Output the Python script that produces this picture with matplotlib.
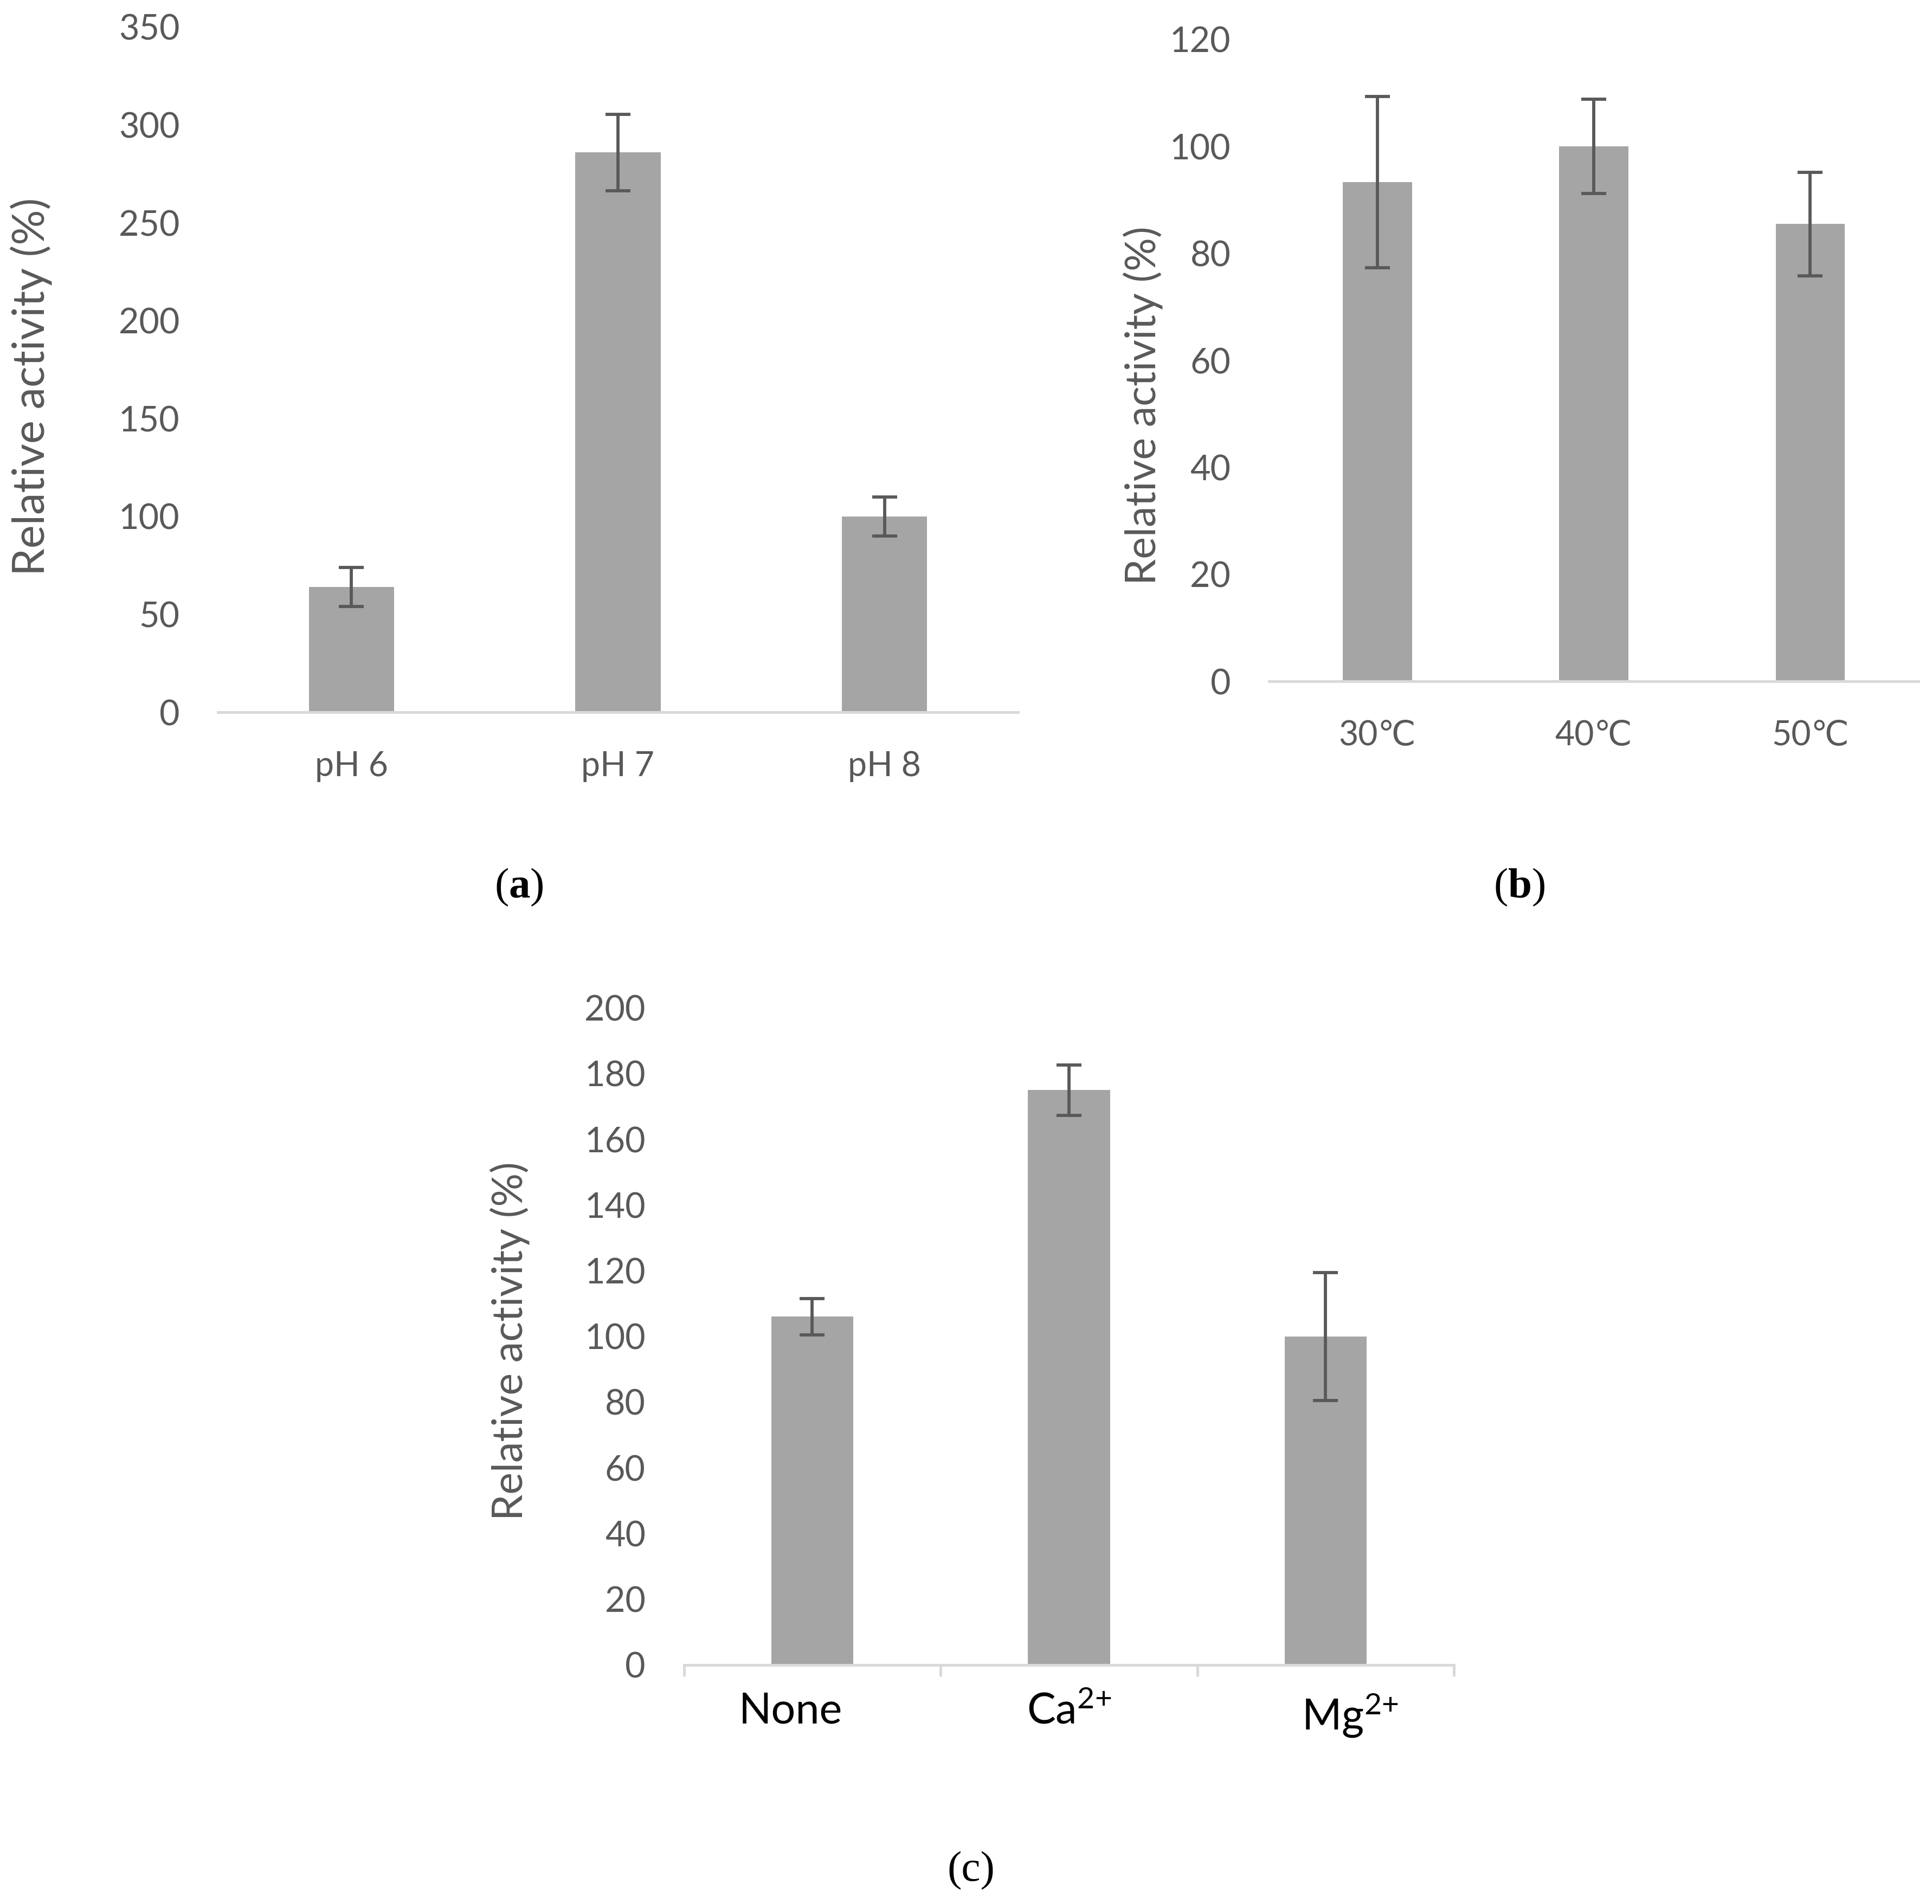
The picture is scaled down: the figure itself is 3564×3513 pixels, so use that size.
import matplotlib
matplotlib.use("Agg")
import matplotlib.pyplot as plt
import matplotlib.transforms as mtransforms
import numpy as np

plt.rcParams['font.family'] = ['Lato', 'DejaVu Sans']
plt.rcParams['mathtext.default'] = 'regular'
plt.rcParams['mathtext.fontset'] = 'custom'
plt.rcParams['mathtext.bf'] = 'Liberation Serif:bold'

# data
ph_labels = ['pH 6', 'pH 7', 'pH 8']
ph_values = [64, 286, 100]
ph_err = [10, 19.5, 10]

temp_labels = ['30℃', '40℃', '50℃']
temp_values = [93.3, 100, 85.5]
temp_err = [16, 8.8, 9.7]

ion_labels = ['None', 'Ca$^{2{+}}$', 'Mg$^{2{+}}$']
ion_values = [106, 175, 100]
ion_err = [5.5, 7.7, 19.5]

BAR = '#a5a5a5'
TXT = '#595959'
AXIS = '#d9d9d9'


def panel(ax, labels, values, err, ymax, step, label_x, label_y, label_size,
          xcolor=TXT, xsize=15, boundary_ticks=False):
    x = np.arange(len(labels))
    ax.bar(x, values, width=0.32, color=BAR, zorder=2)
    ax.errorbar(x, values, yerr=err, fmt='none', ecolor=TXT,
                elinewidth=1.4, capsize=5.5, capthick=1.4, zorder=3)
    ax.set_xlim(-0.5, len(labels) - 0.5)
    ax.set_ylim(0, ymax)
    ax.set_yticks(np.arange(0, ymax + 1, step))
    ax.set_xticks(x)
    ax.set_xticklabels(labels, color=xcolor, fontsize=xsize)
    for s in ['top', 'right', 'left']:
        ax.spines[s].set_visible(False)
    ax.spines['bottom'].set_color(AXIS)
    ax.spines['bottom'].set_linewidth(1.2)
    ax.tick_params(axis='y', length=0, pad=17, labelsize=15.5, labelcolor=TXT)
    ax.tick_params(axis='x', length=0, pad=17)
    if boundary_ticks:
        ax.set_xticks(np.arange(-0.5, len(labels), 1.0), minor=True)
        ax.tick_params(axis='x', which='minor', length=5, width=1.2,
                       color=AXIS)
    ax.set_ylabel('Relative activity (%)', fontsize=label_size, color=TXT)
    ax.yaxis.set_label_coords(label_x, label_y)


fig = plt.figure(figsize=(11.88, 11.71), dpi=300)

ax_a = fig.add_axes([0.1129, 0.6259, 0.4139, 0.3599])
panel(ax_a, ph_labels, ph_values, ph_err, 350, 50, -0.208, 0.475, 19.5)

ax_b = fig.add_axes([0.6569, 0.6421, 0.3361, 0.3372])
panel(ax_b, temp_labels, temp_values, temp_err, 120, 20, -0.163, 0.43, 18.5)

ax_c = fig.add_axes([0.354, 0.1256, 0.3986, 0.345])
panel(ax_c, ion_labels, ion_values, ion_err, 200, 20, -0.2, 0.493, 18.5,
      xcolor='black', xsize=19, boundary_ticks=True)
ax_c.tick_params(axis='x', which='major', pad=12)
# Excel placed the outer labels a little off the bar centres
for lab, dx in zip(ax_c.get_xticklabels(), [-0.135, 0.0, 0.15]):
    lab.set_transform(lab.get_transform() +
                      mtransforms.ScaledTranslation(dx, 0, fig.dpi_scale_trans))

serif = ['Liberation Serif', 'DejaVu Serif']
fig.text(0.2685, 0.534, '($\\mathbf{a}$)', fontsize=19, family=serif,
         ha='center', va='center')
fig.text(0.7864, 0.534, '($\\mathbf{b}$)', fontsize=19, family=serif,
         ha='center', va='center')
fig.text(0.5026, 0.0175, '(c)', fontsize=19, family=serif,
         ha='center', va='center')

fig.savefig('out.png', dpi=300)
